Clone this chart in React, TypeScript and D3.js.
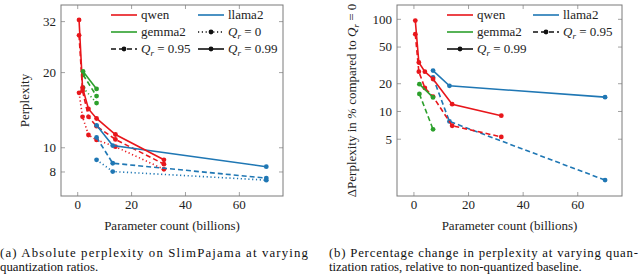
import * as d3 from 'd3';

// parameter counts (billions)
const qwenX = [0.5, 1.8, 4, 7, 14, 32];
const gemmaX = [2, 7];
const llamaX = [7, 13, 70];

// (a) absolute perplexity
const qwenPplQ99 = [32.5, 17.4, 14.3, 13.1, 11.3, 8.95];
const qwenPplQ95 = [28.2, 16.9, 13.3, 12.2, 10.8, 8.6];
const qwenPplQ0 = [16.6, 13.3, 11.25, 10.75, 10.1, 8.2];
const gemmaPplQ99 = [20.2, 17.2];
const gemmaPplQ95 = [19.6, 16.1];
const gemmaPplQ0 = [17.4, 15.1];
const llamaPplQ99 = [12.3, 10.2, 8.4];
const llamaPplQ95 = [11.0, 8.67, 7.56];
const llamaPplQ0 = [8.95, 8.03, 7.42];

// (b) change in % vs Q_r = 0
const qwenPctQ99 = [97, 34, 27, 22.5, 12, 9];
const qwenPctQ95 = [69, 27, 18, 14.5, 7, 5.3];
const gemmaPctQ99 = [19.8, 14.2];
const gemmaPctQ95 = [15.5, 6.4];
const llamaPctQ99 = [27.8, 19, 14.3];
const llamaPctQ95 = [23.4, 7.8, 1.8];

const xTicks = [0, 20, 40, 60];
const pplTicks = [8, 10, 20, 32];
const pctTicks = [5, 10, 20, 50, 100];

const RED = '#e8161b';
const GREEN = '#2ca02c';
const BLUE = '#1f77b4';
const FRAME = '#7a7a7a';
const TXT = { fontFamily: 'Liberation Serif' };

const DASH: Record<string, string | undefined> = {
  solid: undefined,
  dashed: '5,3',
  dotted: '1.2,2.6',
};

type Series = { xs: number[]; ys: number[]; color: string; style: string };
type LegendItem = { label: any; color: string; style: string; marker: boolean };

function Qr({ v }: { v: string }) {
  return (
    <>
      <tspan fontStyle="italic">Q</tspan>
      <tspan fontStyle="italic" fontSize={9} dy={2.5}>r</tspan>
      <tspan dy={-2.5}>{` = ${v}`}</tspan>
    </>
  );
}

function Panel({
  left, right, yDomain, yTicks, series, legend, legendCols, yLabel, yLabelX,
}: {
  left: number; right: number; yDomain: [number, number]; yTicks: number[];
  series: Series[]; legend: LegendItem[]; legendCols: number[]; yLabel: any; yLabelX: number;
}) {
  const top = 5;
  const bottom = 196;
  const x = d3.scaleLinear().domain([-6.2, 76.2]).range([left, right]);
  const y = d3.scaleLog().domain(yDomain).range([bottom, top]);
  const line = d3.line<[number, number]>().x(d => x(d[0])).y(d => y(d[1]));
  const rows = [15, 32, 49];

  return (
    <g>
      {/* ticks */}
      {xTicks.map(t => (
        <g key={`xt${t}`}>
          <line x1={x(t)} x2={x(t)} y1={bottom} y2={bottom - 4} stroke={FRAME} strokeWidth={0.7} />
          <line x1={x(t)} x2={x(t)} y1={top} y2={top + 4} stroke={FRAME} strokeWidth={0.7} />
          <text style={TXT} x={x(t)} y={bottom + 13} textAnchor="middle" fontSize={13} fill="#222">{t}</text>
        </g>
      ))}
      {yTicks.map(t => (
        <g key={`yt${t}`}>
          <line x1={left} x2={left + 4} y1={y(t)} y2={y(t)} stroke={FRAME} strokeWidth={0.7} />
          <line x1={right} x2={right - 4} y1={y(t)} y2={y(t)} stroke={FRAME} strokeWidth={0.7} />
          <text style={TXT} x={left - 5} y={y(t)} dy="0.33em" textAnchor="end" fontSize={13} fill="#222">{t}</text>
        </g>
      ))}
      <rect x={left} y={top} width={right - left} height={bottom - top} fill="none" stroke={FRAME} strokeWidth={1} />

      {/* data */}
      {series.map((s, i) => {
        const pts = s.xs.map((v, j) => [v, s.ys[j]] as [number, number]);
        return (
          <g key={`s${i}`}>
            <path d={line(pts) || ''} fill="none" stroke={s.color} strokeWidth={1.6}
              strokeDasharray={DASH[s.style]} />
            {pts.map((p, j) => (
              <circle key={j} cx={x(p[0])} cy={y(p[1])} r={2.4} fill={s.color} />
            ))}
          </g>
        );
      })}

      {/* legend */}
      {legend.map((it, i) => {
        const cx = legendCols[i % 2];
        const cy = rows[Math.floor(i / 2)];
        return (
          <g key={`l${i}`}>
            <line x1={cx} x2={cx + 26} y1={cy} y2={cy} stroke={it.color} strokeWidth={1.6}
              strokeDasharray={DASH[it.style]} />
            {it.marker && <circle cx={cx + 13} cy={cy} r={2.4} fill={it.color} />}
            <text style={TXT} x={cx + 30} y={cy} dy="0.33em" fontSize={13} fill="#222">{it.label}</text>
          </g>
        );
      })}

      <text style={TXT} x={(left + right) / 2} y={230} textAnchor="middle" fontSize={13} fill="#222">
        Parameter count (billions)
      </text>
      <text style={TXT} transform={`translate(${yLabelX},${(top + bottom) / 2}) rotate(-90)`} textAnchor="middle"
        fontSize={13} fill="#222">
        {yLabel}
      </text>
    </g>
  );
}

export default function App() {
  const modelLegend: LegendItem[] = [
    { label: 'qwen', color: RED, style: 'solid', marker: false },
    { label: 'llama2', color: BLUE, style: 'solid', marker: false },
    { label: 'gemma2', color: GREEN, style: 'solid', marker: false },
  ];
  const leftLegend: LegendItem[] = [
    ...modelLegend,
    { label: <Qr v="0" />, color: '#111', style: 'dotted', marker: true },
    { label: <Qr v="0.95" />, color: '#111', style: 'dashed', marker: true },
    { label: <Qr v="0.99" />, color: '#111', style: 'solid', marker: true },
  ];
  const rightLegend: LegendItem[] = [
    ...modelLegend,
    { label: <Qr v="0.95" />, color: '#111', style: 'dashed', marker: true },
    { label: <Qr v="0.99" />, color: '#111', style: 'solid', marker: true },
  ];

  const leftSeries: Series[] = [
    { xs: qwenX, ys: qwenPplQ0, color: RED, style: 'dotted' },
    { xs: gemmaX, ys: gemmaPplQ0, color: GREEN, style: 'dotted' },
    { xs: llamaX, ys: llamaPplQ0, color: BLUE, style: 'dotted' },
    { xs: qwenX, ys: qwenPplQ95, color: RED, style: 'dashed' },
    { xs: gemmaX, ys: gemmaPplQ95, color: GREEN, style: 'dashed' },
    { xs: llamaX, ys: llamaPplQ95, color: BLUE, style: 'dashed' },
    { xs: llamaX, ys: llamaPplQ99, color: BLUE, style: 'solid' },
    { xs: qwenX, ys: qwenPplQ99, color: RED, style: 'solid' },
    { xs: gemmaX, ys: gemmaPplQ99, color: GREEN, style: 'solid' },
  ];
  const rightSeries: Series[] = [
    { xs: llamaX, ys: llamaPctQ95, color: BLUE, style: 'dashed' },
    { xs: qwenX, ys: qwenPctQ95, color: RED, style: 'dashed' },
    { xs: gemmaX, ys: gemmaPctQ95, color: GREEN, style: 'dashed' },
    { xs: llamaX, ys: llamaPctQ99, color: BLUE, style: 'solid' },
    { xs: qwenX, ys: qwenPctQ99, color: RED, style: 'solid' },
    { xs: gemmaX, ys: gemmaPctQ99, color: GREEN, style: 'solid' },
  ];

  return (
    <svg width={640} height={277} viewBox="0 0 640 277"
      style={{ position: 'absolute', left: 0, top: 0, background: '#fff' }}>
      <rect width={640} height={277} fill="#fff" />
      <Panel left={61} right={283} yDomain={[6.41, 37.3]} yTicks={pplTicks}
        series={leftSeries} legend={leftLegend} legendCols={[111, 198]}
        yLabel="Perplexity" yLabelX={29} />
      <Panel left={397} right={622} yDomain={[1.21, 143]} yTicks={pctTicks}
        series={rightSeries} legend={rightLegend} legendCols={[447, 533]}
        yLabel={<>ΔPerplexity in <tspan fontStyle="italic">%</tspan> compared to <Qr v="0" /></>}
        yLabelX={356} />

      <g fontSize={12.8} fill="#111">
        <text style={TXT} x={0} y={257} textLength={308} lengthAdjust="spacing">
          (a) Absolute perplexity on SlimPajama at varying
        </text>
        <text style={TXT} x={0} y={271}>quantization ratios.</text>
        <text style={TXT} x={329} y={257} textLength={309} lengthAdjust="spacing">
          (b) Percentage change in perplexity at varying quan-
        </text>
        <text style={TXT} x={329} y={271}>tization ratios, relative to non-quantized baseline.</text>
      </g>
    </svg>
  );
}
